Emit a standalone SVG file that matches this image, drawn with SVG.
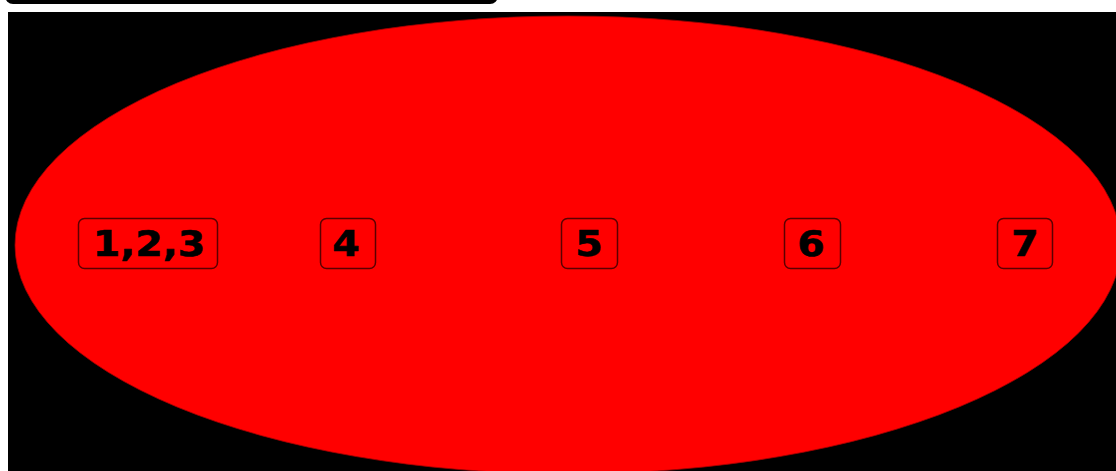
<svg xmlns="http://www.w3.org/2000/svg" width="1116" height="471" viewBox="0 0 1116 471">
<style>
.box{fill:#ff0000;stroke:#5a0000;stroke-width:1.5}
.lbl{font-family:"DejaVu Sans",sans-serif;font-weight:bold;font-size:35px;fill:#000;stroke:#000;stroke-width:0.6;text-anchor:middle}
</style>
<rect x="0" y="0" width="1116" height="471" fill="#ffffff"/>
<rect id="topbar" x="5" y="-20" width="493" height="24" rx="8" fill="#000"/>
<rect id="background" x="8" y="12" width="1108" height="459" fill="#000"/>
<ellipse id="region" cx="568" cy="245" rx="553" ry="229" fill="#ff0000" stroke="#a00000" stroke-width="0.8"/>
<g id="connectors"></g>
<g id="n123"><rect class="box" x="78.5" y="218.5" width="139" height="50" rx="6"/><text class="lbl" transform="translate(149 256) scale(1.13 1)">1,2,3</text></g>
<g id="n4"><rect class="box" x="320.5" y="218.5" width="55" height="50" rx="6"/><text class="lbl" transform="translate(346 256) scale(1.13 1)">4</text></g>
<g id="n5"><rect class="box" x="561.5" y="218.5" width="56" height="50" rx="6"/><text class="lbl" transform="translate(589 256) scale(1.13 1)">5</text></g>
<g id="n6"><rect class="box" x="784.5" y="218.5" width="56" height="50" rx="6"/><text class="lbl" transform="translate(811 256) scale(1.13 1)">6</text></g>
<g id="n7"><rect class="box" x="997.5" y="218.5" width="55" height="50" rx="6"/><text class="lbl" transform="translate(1025 256) scale(1.13 1)">7</text></g>
</svg>
